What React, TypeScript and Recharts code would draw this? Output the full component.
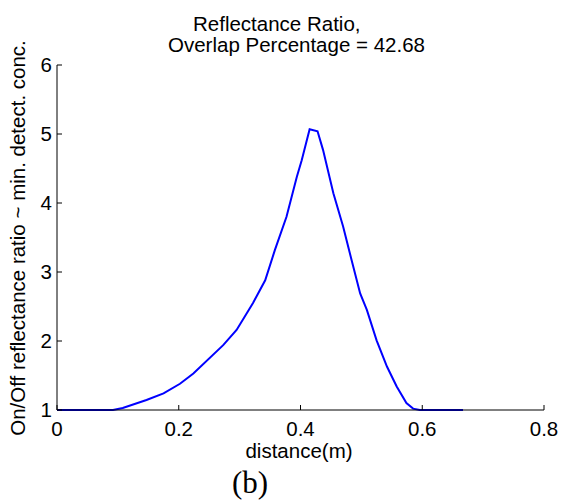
import { LineChart, Line, XAxis, YAxis } from 'recharts';

// values
const distance = [
  0, 0.092, 0.108, 0.147, 0.175, 0.202, 0.224, 0.273, 0.295, 0.322, 0.342, 0.358,
  0.377, 0.394, 0.402, 0.415, 0.428, 0.437, 0.454, 0.47, 0.484, 0.498, 0.509, 0.525,
  0.542, 0.558, 0.574, 0.585, 0.596, 0.667,
];
const ratio = [
  1.0, 1.0, 1.03, 1.145, 1.24, 1.38, 1.53, 1.94, 2.16, 2.55, 2.88, 3.32,
  3.8, 4.38, 4.62, 5.07, 5.04, 4.77, 4.14, 3.66, 3.17, 2.69, 2.45, 2.01,
  1.63, 1.34, 1.1, 1.02, 1.0, 1.0,
];
const xTicks = [0, 0.2, 0.4, 0.6, 0.8];
const yTicks = [1, 2, 3, 4, 5, 6];

const data = distance.map((d, i) => ({ distance: d, ratio: ratio[i] }));

const FONT = '"Liberation Sans", Arial, sans-serif';

const App = () => {
  return (
    <div style={{ position: 'absolute', left: 0, top: 0, width: 565, height: 501, background: '#fff' }}>
      {/* title, two lines */}
      <div style={{ position: 'absolute', left: 193, top: 13, fontFamily: FONT, fontSize: 20.5, lineHeight: '21px', whiteSpace: 'pre' }}>
        Reflectance Ratio,
      </div>
      <div style={{ position: 'absolute', left: 168, top: 34, fontFamily: FONT, fontSize: 20.5, lineHeight: '21px', whiteSpace: 'pre' }}>
        Overlap Percentage = 42.68
      </div>

      <LineChart width={565} height={501} data={data} margin={{ top: 65, right: 21, bottom: 61, left: 0 }}>
        <XAxis
          dataKey="distance"
          type="number"
          domain={[0, 0.8]}
          ticks={xTicks}
          interval={0}
          height={30}
          tickSize={-5}
          tickMargin={16}
          stroke="#000"
          tick={{ fill: '#000', fontSize: 20.5, fontFamily: FONT }}
          label={{
            content: () => (
              <text x={299} y={458} textAnchor="middle" fontFamily={FONT} fontSize={20.5} fill="#000">
                distance(m)
              </text>
            ),
          }}
        />
        <YAxis
          type="number"
          domain={[1, 6]}
          ticks={yTicks}
          interval={0}
          width={57}
          tickSize={-5}
          tickMargin={10}
          stroke="#000"
          tick={{ fill: '#000', fontSize: 20.5, fontFamily: FONT }}
          label={{
            content: () => (
              <text
                x={25}
                y={238}
                transform="rotate(-90 25 238)"
                textAnchor="middle"
                fontFamily={FONT}
                fontSize={20.5}
                fill="#000"
              >
                On/Off reflectance ratio ~ min. detect. conc.
              </text>
            ),
          }}
        />
        <Line
          type="linear"
          dataKey="ratio"
          stroke="#0000ff"
          strokeWidth={2}
          dot={false}
          isAnimationActive={false}
        />
      </LineChart>

      <div style={{ position: 'absolute', left: 0, width: 500, top: 466, textAlign: 'center', fontFamily: '"Liberation Serif", "Times New Roman", serif', fontSize: 31, lineHeight: '33px' }}>
        (b)
      </div>
    </div>
  );
};

export default App;
